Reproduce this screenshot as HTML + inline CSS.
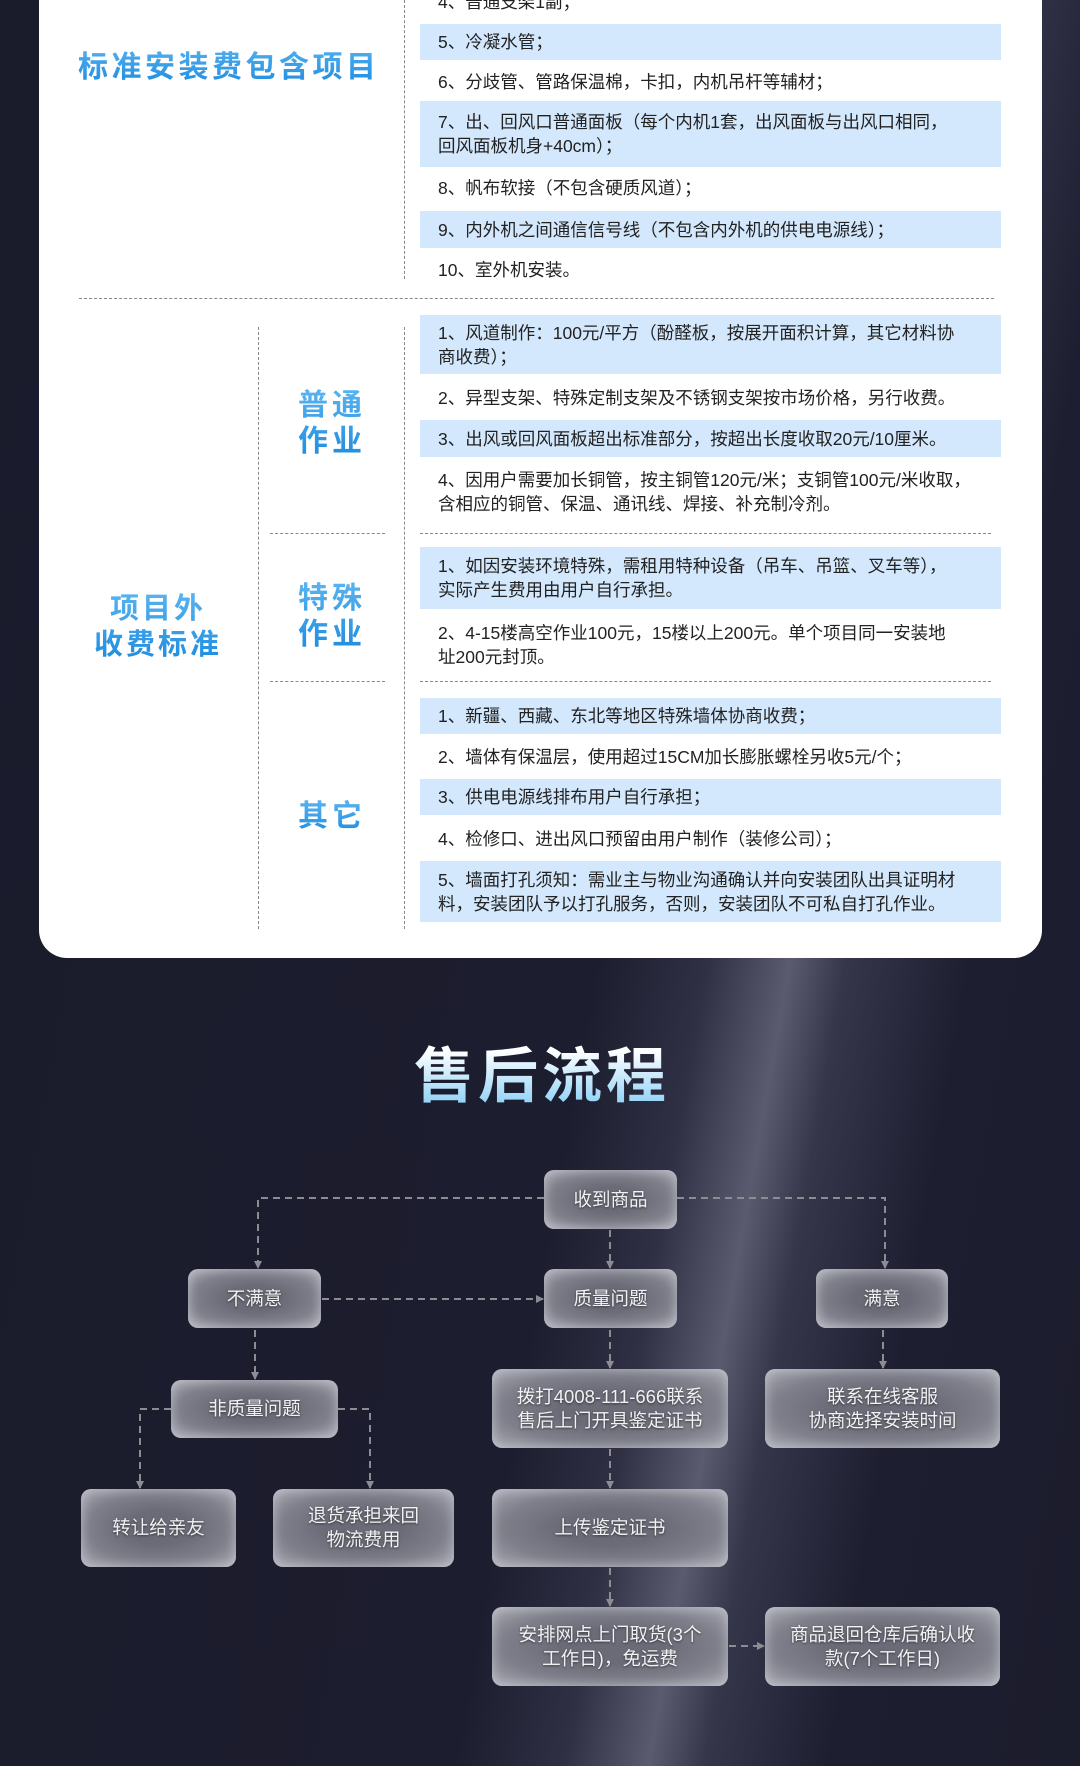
<!DOCTYPE html>
<html><head><meta charset="utf-8">
<style>
*{margin:0;padding:0;box-sizing:border-box}
body{width:1080px;height:1766px;overflow:hidden;position:relative;font-family:"Liberation Sans","Noto Sans CJK SC",sans-serif;
background:linear-gradient(100deg,#1a1b2b 0%,#1c1d2e 55%,#2f3044 63%,#5a5b6e 69%,#35364a 73%,#1d1e30 82%,#1b1c2c 100%);}
.card{position:absolute;left:39px;top:-40px;width:1003px;height:998px;background:#fff;border-radius:28px}
.abs{position:absolute}
.row{position:absolute;left:420px;width:581px;padding-left:18px;font-size:17.5px;line-height:24px;color:#222;display:flex;align-items:center}
.band{background:#d3e8fc}
.vd{position:absolute;width:0;border-left:1.3px dashed #888}
.hd{position:absolute;height:0;border-top:1.3px dashed #888}
.lbl{position:absolute;font-weight:bold;color:#2a96e6;text-align:center;background:linear-gradient(180deg,#5ab4f0,#1d8ce0);-webkit-background-clip:text;background-clip:text;-webkit-text-fill-color:transparent}
.title{position:absolute;left:0;width:1080px;top:1028px;text-align:center;font-size:60px;font-weight:bold;letter-spacing:4px;text-indent:4px;background:linear-gradient(180deg,#ffffff 25%,#7ccaf5 100%);-webkit-background-clip:text;background-clip:text;-webkit-text-fill-color:transparent}
.node{position:absolute;border-radius:10px;background:radial-gradient(ellipse at center,#6a6b77 30%,#7e7f8a 65%,#a9aab3 100%);box-shadow:inset 0 0 12px rgba(220,220,230,.6);color:#f2f2f4;font-size:18.5px;line-height:24px;display:flex;align-items:center;justify-content:center;text-align:center;text-shadow:0 1px 2px rgba(0,0,0,.5)}
</style></head><body>
<div class="card"></div>
<div class="vd" style="left:404px;top:0;height:279px"></div>
<div class="lbl" style="left:78px;top:42px;width:320px;font-size:30px;letter-spacing:3.5px;text-align:left">标准安装费包含项目</div>

<div class="row" style="top:-10px;height:24px">4、普通支架1副；</div>
<div class="row band" style="top:24px;height:36px">5、冷凝水管；</div>
<div class="row" style="top:64px;height:36px">6、分歧管、管路保温棉，卡扣，内机吊杆等辅材；</div>
<div class="row band" style="top:101px;height:66px">7、出、回风口普通面板（每个内机1套，出风面板与出风口相同，<br>回风面板机身+40cm）；</div>
<div class="row" style="top:170px;height:36px">8、帆布软接（不包含硬质风道）；</div>
<div class="row band" style="top:211px;height:37px">9、内外机之间通信信号线（不包含内外机的供电电源线）；</div>
<div class="row" style="top:252px;height:36px">10、室外机安装。</div>
<div class="hd" style="left:79px;width:915px;top:298px"></div>

<div class="vd" style="left:258px;top:327px;height:602px"></div>
<div class="vd" style="left:404px;top:327px;height:602px"></div>
<div class="lbl" style="left:80px;top:591px;width:156px;font-size:29px;line-height:36px;letter-spacing:3px">项目外<br>收费标准</div>
<div class="lbl" style="left:290px;top:388px;width:84px;font-size:30px;line-height:36px;letter-spacing:4px">普通<br>作业</div>
<div class="lbl" style="left:290px;top:581px;width:84px;font-size:30px;line-height:36px;letter-spacing:4px">特殊<br>作业</div>
<div class="lbl" style="left:290px;top:799px;width:84px;font-size:30px;line-height:36px;letter-spacing:4px">其它</div>

<div class="row band" style="top:315px;height:59px">1、风道制作：100元/平方（酚醛板，按展开面积计算，其它材料协<br>商收费）；</div>
<div class="row" style="top:380px;height:36px">2、异型支架、特殊定制支架及不锈钢支架按市场价格，另行收费。</div>
<div class="row band" style="top:420px;height:37px">3、出风或回风面板超出标准部分，按超出长度收取20元/10厘米。</div>
<div class="row" style="top:468px;height:48px">4、因用户需要加长铜管，按主铜管120元/米；支铜管100元/米收取，<br>含相应的铜管、保温、通讯线、焊接、补充制冷剂。</div>
<div class="hd" style="left:270px;width:115px;top:533px"></div>
<div class="hd" style="left:420px;width:571px;top:533px"></div>
<div class="row band" style="top:547px;height:62px">1、如因安装环境特殊，需租用特种设备（吊车、吊篮、叉车等），<br>实际产生费用由用户自行承担。</div>
<div class="row" style="top:621px;height:48px">2、4-15楼高空作业100元，15楼以上200元。单个项目同一安装地<br>址200元封顶。</div>
<div class="hd" style="left:270px;width:115px;top:681px"></div>
<div class="hd" style="left:420px;width:571px;top:681px"></div>
<div class="row band" style="top:698px;height:36px">1、新疆、西藏、东北等地区特殊墙体协商收费；</div>
<div class="row" style="top:739px;height:36px">2、墙体有保温层，使用超过15CM加长膨胀螺栓另收5元/个；</div>
<div class="row band" style="top:779px;height:36px">3、供电电源线排布用户自行承担；</div>
<div class="row" style="top:821px;height:36px">4、检修口、进出风口预留由用户制作（装修公司）；</div>
<div class="row band" style="top:861px;height:61px">5、墙面打孔须知：需业主与物业沟通确认并向安装团队出具证明材<br>料，安装团队予以打孔服务，否则，安装团队不可私自打孔作业。</div>

<div class="title">售后流程</div>

<svg class="abs" style="left:0;top:0" width="1080" height="1766">
<defs><marker id="a" markerWidth="8" markerHeight="8" refX="7" refY="4" orient="auto" markerUnits="userSpaceOnUse"><path d="M0,0 L8,4 L0,8z" fill="#8c8c92"/></marker></defs>
<g stroke="#8c8c92" stroke-width="2" stroke-dasharray="7,5" fill="none" marker-end="url(#a)">
<path d="M544,1198 H258 V1268"/>
<path d="M677,1198 H885 V1268"/>
<path d="M610,1230 V1268"/>
<path d="M322,1299 H543"/>
<path d="M255,1330 V1379"/>
<path d="M171,1409 H140 V1488"/>
<path d="M338,1409 H370 V1488"/>
<path d="M610,1330 V1368"/>
<path d="M610,1449 V1488"/>
<path d="M610,1568 V1606"/>
<path d="M883,1330 V1368"/>
<path d="M729,1646 H764"/>
</g></svg>

<div class="node" style="left:544px;top:1170px;width:133px;height:59px">收到商品</div>
<div class="node" style="left:188px;top:1269px;width:133px;height:59px">不满意</div>
<div class="node" style="left:544px;top:1269px;width:133px;height:59px">质量问题</div>
<div class="node" style="left:816px;top:1269px;width:132px;height:59px">满意</div>
<div class="node" style="left:171px;top:1380px;width:167px;height:58px">非质量问题</div>
<div class="node" style="left:492px;top:1369px;width:236px;height:79px">拨打4008-111-666联系<br>售后上门开具鉴定证书</div>
<div class="node" style="left:765px;top:1369px;width:235px;height:79px">联系在线客服<br>协商选择安装时间</div>
<div class="node" style="left:81px;top:1489px;width:155px;height:78px">转让给亲友</div>
<div class="node" style="left:273px;top:1489px;width:181px;height:78px">退货承担来回<br>物流费用</div>
<div class="node" style="left:492px;top:1489px;width:236px;height:78px">上传鉴定证书</div>
<div class="node" style="left:492px;top:1607px;width:236px;height:79px">安排网点上门取货(3个<br>工作日)，免运费</div>
<div class="node" style="left:765px;top:1607px;width:235px;height:79px">商品退回仓库后确认收<br>款(7个工作日)</div>
</body></html>
